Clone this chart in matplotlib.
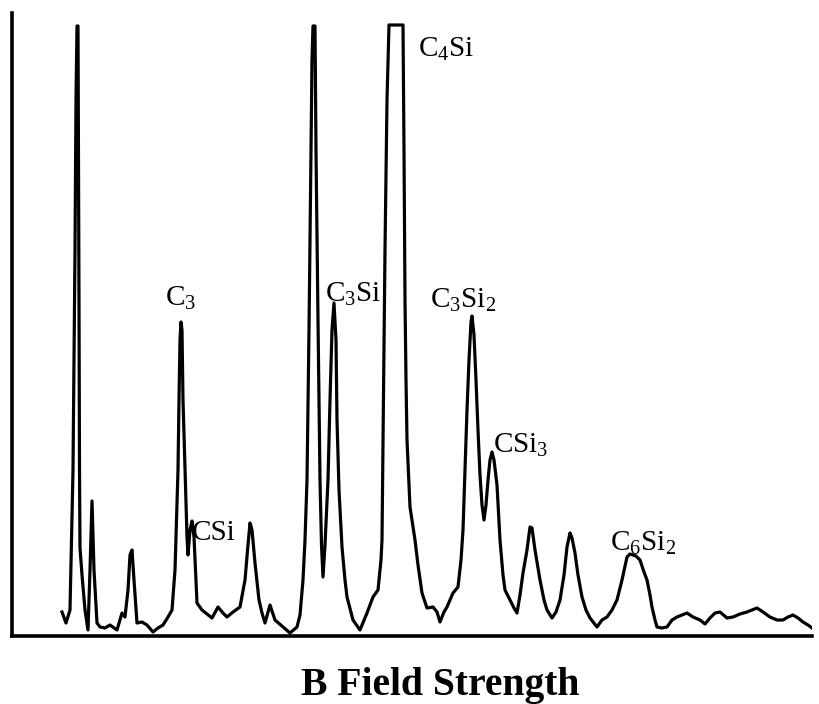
import matplotlib
matplotlib.use('Agg')
import matplotlib.pyplot as plt

# B-field position (arbitrary units) and detector signal (arbitrary units),
# read off the scanned spectrum
field = [62, 66, 70, 73, 75, 76, 77, 78, 79, 79.5, 80, 82, 85, 88, 90, 92, 94, 97,
         100, 105, 110, 117, 122, 125, 128, 130, 132, 134, 137, 142, 147, 153, 158,
         163, 168, 172, 175, 177, 178, 179, 180, 181, 182, 183, 185, 187, 188, 190,
         192, 194, 197, 202, 207, 212, 218, 223, 227, 233, 240, 245, 248, 250, 252,
         255, 259, 262, 265, 270, 275, 283, 290, 297, 300, 303, 305, 307, 309, 311,
         312, 313, 315, 316, 318, 320, 321.5, 323, 325, 328, 330, 332, 334, 336, 337,
         339, 342, 345, 347, 353, 360, 367, 373, 378, 381, 382, 383, 385, 387, 389,
         403, 404, 405, 406, 407, 410, 415, 418, 422, 427, 433, 437, 440, 444, 447,
         453, 458, 461, 463, 465, 467, 469, 471, 472, 474, 476, 478, 480, 482, 484,
         486, 488, 490, 492, 494, 497, 500, 503, 505, 510, 514, 517, 520, 523, 527,
         530, 532, 535, 540, 544, 547, 552, 556, 560, 564, 567, 570, 572, 575, 578,
         582, 586, 590, 597, 602, 607, 612, 617, 622, 627, 630, 633, 636, 640, 644,
         647, 650, 652, 655, 657, 662, 667, 672, 677, 682, 687, 693, 700, 705, 710,
         715, 720, 727, 733, 740, 747, 752, 757, 763, 770, 777, 783, 788, 793, 798,
         803, 808, 812]
signal = [24, 13, 26, 166, 386, 536, 610, 610, 336, 166, 88, 61, 26, 6, 66, 135, 66, 13,
          9, 8, 11, 6, 23, 19, 46, 81, 86, 56, 13, 14, 11, 4, 8,
          11, 19, 26, 66, 133, 166, 236, 296, 314, 306, 236, 166, 99, 81, 106,
          115, 99, 33, 26, 22, 18, 29, 23, 19, 24, 29, 56, 91, 113, 106,
          73, 36, 23, 13, 31, 16, 9, 3, 9, 21, 56, 96, 156, 306, 486,
          576, 610, 610, 486, 316, 156, 91, 59, 91, 156, 236, 306, 333, 296, 216,
          146, 89, 56, 39, 16, 6, 23, 39, 46, 76, 96, 196, 386, 536, 611,
          611, 486, 336, 256, 196, 129, 96, 71, 43, 28, 29, 24, 14, 24, 29,
          43, 49, 76, 106, 166, 226, 276, 314, 320, 301, 256, 206, 161, 131, 116,
          131, 156, 176, 184, 176, 151, 96, 61, 46, 36, 28, 23, 41, 63, 86,
          109, 108, 86, 56, 36, 26, 18, 24, 36, 61, 89, 103, 98, 83, 61,
          39, 26, 18, 9, 16, 19, 26, 36, 56, 79, 82, 81, 80, 76, 64,
          56, 41, 29, 16, 9, 8, 9, 16, 19, 21, 23, 19, 16, 12, 18,
          23, 24, 18, 19, 22, 24, 26, 28, 24, 19, 16, 16, 19, 21, 18,
          14, 11, 8]

# peak assignments: label text, anchor (field, signal)
peak_labels = [r'C$_3$', 'CSi', r'C$_3$Si', r'C$_4$Si', r'C$_3$Si$_2$', r'CSi$_3$', r'C$_6$Si$_2$']
label_field = [165, 192, 325, 418, 430, 493, 610]
label_signal = [330, 96, 334, 579, 328, 183, 85]

plt.rcParams['font.family'] = ['Liberation Serif', 'DejaVu Serif']
plt.rcParams['mathtext.fontset'] = 'custom'
plt.rcParams['mathtext.rm'] = 'Liberation Serif'
plt.rcParams['mathtext.it'] = 'Liberation Serif:italic'

fig = plt.figure(figsize=(8.2, 7.04), dpi=100)
ax = fig.add_axes([12 / 820, 68 / 704, 800 / 820, 623 / 704])

ax.plot(field, signal, color='black', linewidth=2.3, solid_joinstyle='round')

for txt, fx, fy in zip(peak_labels, label_field, label_signal):
    ax.text(fx, fy, txt, fontsize=21, ha='left', va='baseline', color='black')

ax.set_xlim(12, 812)
ax.set_ylim(0, 623)
ax.set_xticks([])
ax.set_yticks([])
for side in ['top', 'right']:
    ax.spines[side].set_visible(False)
for side in ['left', 'bottom']:
    ax.spines[side].set_linewidth(2.6)
    ax.spines[side].set_color('black')

fig.text(440 / 820, 1 - 686 / 704, 'B Field Strength', fontsize=28.5, fontweight='bold',
         ha='center', va='center')

fig.savefig('out.png', dpi=100)
